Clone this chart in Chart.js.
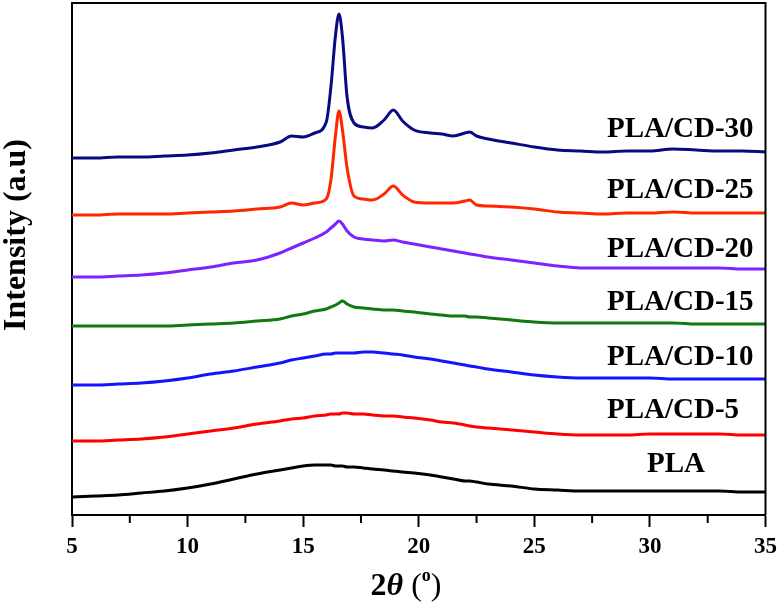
<!DOCTYPE html>
<html>
<head>
<meta charset="utf-8">
<script src="https://cdn.jsdelivr.net/npm/chart.js@4.4.1/dist/chart.umd.min.js"></script>
<style>
    html, body { margin: 0; padding: 0; background: #fff; }
    #wrap { width: 783px; height: 604px; }
</style>
</head>
<body>
<div id="wrap"><canvas id="xrdChart" width="783" height="604"></canvas></div>
<script>
// 2theta positions (deg) the patterns were read at
const twoTheta = [5, 6, 7, 8, 9, 10, 11, 12, 13, 14, 14.5, 15, 15.5, 16, 16.2, 16.4, 16.55, 16.7, 16.9, 17.2,
    17.6, 18, 18.5, 18.9, 19.3, 19.8, 20.5, 21, 21.5, 22, 22.2, 22.5, 23, 24, 25, 26, 27, 28, 29, 30,
    31, 32, 33, 34, 35];

// stacked intensities (a.u.), offsets included
const pla = [15, 16, 17, 19, 21, 24, 28, 33, 38, 42, 44, 46, 47, 47, 47, 46, 46, 46, 45, 45,
    44, 43, 42, 41, 40, 39, 37, 35, 33, 31, 31, 30, 28, 26, 23, 22, 21, 21, 21, 21,
    21, 21, 21, 20, 20];
const cd5 = [71, 71, 72, 73, 75, 78, 81, 84, 88, 91, 93, 94, 96, 97, 98, 98, 98, 99, 99, 98,
    98, 97, 96, 96, 95, 94, 92, 90, 89, 87, 86, 85, 84, 82, 80, 78, 77, 77, 77, 78,
    78, 78, 78, 77, 77];
const cd10 = [127, 127, 128, 129, 131, 134, 138, 141, 145, 149, 152, 154, 156, 158, 158, 159, 159, 159, 159, 159,
    160, 160, 159, 158, 157, 155, 153, 151, 149, 147, 146, 145, 143, 140, 137, 135, 134, 134, 134, 134,
    133, 133, 133, 133, 133];
const cd15 = [186, 186, 186, 186, 186, 187, 188, 189, 191, 193, 196, 198, 201, 203, 205, 207, 209, 211, 208, 205,
    204, 203, 202, 202, 201, 200, 198, 197, 196, 196, 195, 195, 194, 192, 190, 189, 189, 189, 189, 189,
    189, 188, 188, 188, 188];
const cd20 = [235, 235, 236, 237, 239, 242, 245, 249, 252, 259, 264, 269, 274, 280, 284, 288, 291, 288, 281, 275,
    273, 272, 271, 272, 270, 268, 265, 263, 261, 259, 258, 257, 255, 252, 249, 246, 244, 244, 244, 244,
    244, 244, 244, 243, 243];
const cd25 = [297, 297, 298, 298, 298, 299, 300, 301, 303, 305, 309, 307, 309, 313, 332, 377, 401, 382, 344, 316,
    313, 312, 318, 326, 317, 310, 309, 309, 309, 311, 312, 307, 306, 305, 303, 300, 299, 298, 299, 299,
    300, 299, 299, 299, 299];
const cd30 = [354, 354, 355, 355, 356, 357, 359, 362, 365, 370, 376, 375, 379, 390, 425, 477, 498, 475, 415, 389,
    385, 384, 392, 402, 391, 382, 379, 378, 376, 379, 380, 376, 373, 369, 365, 362, 361, 360, 361, 361,
    363, 362, 361, 361, 360];

const seriesNames = ['PLA', 'PLA/CD-5', 'PLA/CD-10', 'PLA/CD-15', 'PLA/CD-20', 'PLA/CD-25', 'PLA/CD-30'];
const seriesData = [pla, cd5, cd10, cd15, cd20, cd25, cd30];
const xTicks = [5, 10, 15, 20, 25, 30, 35];

const colors = ['#000000', '#ff0000', '#1414ff', '#127812', '#7f22ff', '#ff2600', '#0a0a80'];
// where each curve's name sits: [left x px, baseline y px]
const labelSpots = [[647, 472], [607, 418], [607, 365], [607, 310], [607, 257], [607, 198], [607, 137]];

const serif = '"Liberation Serif", "Times New Roman", serif';

const decorPlugin = {
    id: 'decor',
    afterDraw(chart) {
        const { ctx, chartArea: a, scales } = chart;
        ctx.save();
        ctx.strokeStyle = '#000';
        ctx.lineWidth = 2;

        // close the frame (top + right)
        ctx.beginPath();
        ctx.moveTo(a.left, a.top);
        ctx.lineTo(a.right, a.top);
        ctx.lineTo(a.right, a.bottom);
        ctx.stroke();

        // minor ticks halfway between the labelled ones
        for (let i = 0; i < xTicks.length - 1; i++) {
            const px = scales.x.getPixelForValue((xTicks[i] + xTicks[i + 1]) / 2);
            ctx.beginPath();
            ctx.moveTo(px, a.bottom);
            ctx.lineTo(px, a.bottom + 8);
            ctx.stroke();
        }

        // curve names
        ctx.fillStyle = '#000';
        ctx.font = 'bold 29px ' + serif;
        ctx.textAlign = 'left';
        ctx.textBaseline = 'alphabetic';
        seriesNames.forEach((name, i) => {
            ctx.fillText(name, labelSpots[i][0], labelSpots[i][1]);
        });

        // y title
        ctx.save();
        ctx.translate(17, 235);
        ctx.rotate(-Math.PI / 2);
        ctx.textAlign = 'center';
        ctx.textBaseline = 'middle';
        ctx.font = 'bold 32px ' + serif;
        ctx.fillText('Intensity (a.u)', 0, 0);
        ctx.restore();

        // x title: 2θ (°)
        const parts = [
            { t: '2', f: 'bold 32px ' + serif, dy: 0 },
            { t: 'θ', f: 'italic bold 32px ' + serif, dy: 0 },
            { t: ' (', f: '32px ' + serif, dy: 0 },
            { t: 'o', f: 'bold 18px ' + serif, dy: -14 },
            { t: ')', f: '32px ' + serif, dy: 0 }
        ];
        let total = 0;
        parts.forEach(p => { ctx.font = p.f; p.w = ctx.measureText(p.t).width; total += p.w; });
        let x = 406 - total / 2;
        parts.forEach(p => {
            ctx.font = p.f;
            ctx.fillText(p.t, x, 595 + p.dy);
            x += p.w;
        });

        ctx.restore();
    }
};

new Chart(document.getElementById('xrdChart'), {
    type: 'line',
    data: {
        datasets: seriesData.map((vals, i) => ({
            label: seriesNames[i],
            data: vals.map((v, j) => ({ x: twoTheta[j], y: v })),
            borderColor: colors[i],
            borderWidth: 3,
            pointRadius: 0,
            fill: false,
            cubicInterpolationMode: 'monotone'
        }))
    },
    options: {
        responsive: false,
        animation: false,
        devicePixelRatio: 1,
        layout: { padding: { top: 3, right: 15, left: 0, bottom: 0 } },
        plugins: {
            legend: { display: false },
            tooltip: { enabled: false }
        },
        scales: {
            x: {
                type: 'linear',
                min: 5,
                max: 35,
                afterFit(scale) { scale.height = 89; },
                grid: {
                    display: true,
                    drawOnChartArea: false,
                    drawTicks: true,
                    tickLength: 12,
                    tickWidth: 2,
                    tickColor: '#000'
                },
                border: { display: true, color: '#000', width: 2 },
                ticks: {
                    stepSize: 5,
                    padding: 6,
                    color: '#000',
                    maxRotation: 0,
                    font: { family: serif, size: 23, weight: 'bold' }
                }
            },
            y: {
                min: -3,
                max: 509,
                afterFit(scale) { scale.width = 72; },
                grid: { display: false },
                border: { display: true, color: '#000', width: 2 },
                ticks: { display: false }
            }
        }
    },
    plugins: [decorPlugin]
});
</script>
</body>
</html>
